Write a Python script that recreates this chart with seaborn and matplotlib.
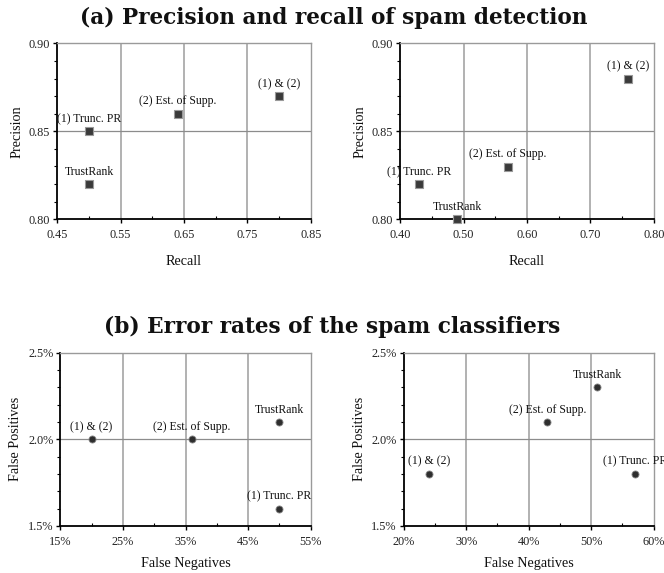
import numpy as np
import pandas as pd
import matplotlib
matplotlib.use("Agg")
import matplotlib.pyplot as plt
from matplotlib.ticker import FixedLocator, FuncFormatter
import seaborn as sns

# ---------------- data ----------------
labels_a1 = ["TrustRank", "(1) Trunc. PR", "(2) Est. of Supp.", "(1) & (2)"]
recall_a1 = [0.50, 0.50, 0.64, 0.80]
precision_a1 = [0.82, 0.85, 0.86, 0.87]

labels_a2 = ["(1) Trunc. PR", "TrustRank", "(2) Est. of Supp.", "(1) & (2)"]
recall_a2 = [0.43, 0.49, 0.57, 0.76]
precision_a2 = [0.82, 0.80, 0.83, 0.88]

labels_b1 = ["(1) & (2)", "(2) Est. of Supp.", "TrustRank", "(1) Trunc. PR"]
fneg_b1 = [20, 36, 50, 50]
fpos_b1 = [2.0, 2.0, 2.1, 1.6]

labels_b2 = ["(1) & (2)", "(2) Est. of Supp.", "TrustRank", "(1) Trunc. PR"]
fneg_b2 = [24, 43, 51, 57]
fpos_b2 = [1.8, 2.1, 2.3, 1.8]

title_a = "(a) Precision and recall of spam detection"
title_b = "(b) Error rates of the spam classifiers"

# ---------------- style ----------------
sns.set_theme(style="white")
plt.rcParams["font.family"] = ["Liberation Serif", "DejaVu Serif"]

fig = plt.figure(figsize=(6.64, 5.73), dpi=100)

W, H = 664.0, 573.0
def ax_rect(x0, x1, y0, y1):
    return [x0 / W, 1 - y1 / H, (x1 - x0) / W, (y1 - y0) / H]

ax1 = fig.add_axes(ax_rect(57.3, 310.7, 43.3, 219.3))
ax2 = fig.add_axes(ax_rect(400.3, 653.7, 43.3, 219.3))
ax3 = fig.add_axes(ax_rect(60.3, 310.7, 352.7, 526.0))
ax4 = fig.add_axes(ax_rect(403.7, 653.7, 352.7, 526.0))


def steps(lo, hi, step):
    n = int(round((hi - lo) / step))
    return [lo + i * step for i in range(n + 1)]


def draw(ax, xs, ys, labs, xlim, ylim, xmaj, ymaj, xmin, ymin, xfmt, yfmt,
         xlabel, ylabel, marker, xlabelpad):
    df = pd.DataFrame({"x": xs, "y": ys, "label": labs})
    ax.set_axisbelow(True)
    if marker == "s":
        sns.scatterplot(data=df, x="x", y="y", ax=ax, marker="s", s=26,
                        color="#3a3a3a", edgecolor="#9a9a9a", linewidth=0.8,
                        zorder=5, clip_on=False)
    else:
        sns.scatterplot(data=df, x="x", y="y", ax=ax, marker="o", s=26,
                        color="#2e2e2e", edgecolor="#8a8a8a", linewidth=0.6,
                        zorder=5, clip_on=False)
    for _, r in df.iterrows():
        ax.annotate(r["label"], (r["x"], r["y"]), xytext=(0, 4.5),
                    textcoords="offset points", ha="center", va="bottom",
                    fontsize=8.5, color="#111111", zorder=6,
                    annotation_clip=False)
    ax.set_xlim(*xlim)
    ax.set_ylim(*ylim)
    xt = steps(xlim[0], xlim[1], xmaj)
    yt = steps(ylim[0], ylim[1], ymaj)
    ax.xaxis.set_major_locator(FixedLocator(xt))
    ax.yaxis.set_major_locator(FixedLocator(yt))
    ax.xaxis.set_minor_locator(FixedLocator(steps(xlim[0], xlim[1], xmin)))
    ax.yaxis.set_minor_locator(FixedLocator(steps(ylim[0], ylim[1], ymin)))
    ax.xaxis.set_major_formatter(FuncFormatter(xfmt))
    ax.yaxis.set_major_formatter(FuncFormatter(yfmt))
    ax.grid(False)
    for v in xt[1:-1]:
        ax.axvline(v, color="#ababab", lw=1.3, zorder=0)
    for v in yt[1:-1]:
        ax.axhline(v, color="#8c8c8c", lw=0.9, zorder=0)
    for s in ("left", "bottom"):
        ax.spines[s].set_color("#000000")
        ax.spines[s].set_linewidth(1.3)
    for s in ("top", "right"):
        ax.spines[s].set_color("#9a9a9a")
        ax.spines[s].set_linewidth(1.0)
    ax.tick_params(axis="both", which="major", direction="out", length=3,
                   width=1.0, color="#000000", labelsize=8.8,
                   labelcolor="#222222", left=True, bottom=True)
    ax.tick_params(axis="x", which="major", pad=4)
    ax.tick_params(axis="y", which="major", pad=2)
    ax.tick_params(axis="y", which="minor", direction="out", length=2,
                   width=0.8, color="#000000", left=True)
    ax.tick_params(axis="x", which="minor", direction="in", length=2,
                   width=0.8, color="#000000", bottom=True)
    ax.set_xlabel(xlabel, fontsize=10.2, color="#111111", labelpad=xlabelpad)
    ax.set_ylabel(ylabel, fontsize=10.2, color="#111111", labelpad=4)


fmt2 = lambda v, p: f"{v:.2f}"
pct0 = lambda v, p: f"{v:.0f}%"
pct1 = lambda v, p: f"{v:.1f}%"

draw(ax1, recall_a1, precision_a1, labels_a1, (0.45, 0.85), (0.80, 0.90),
     0.10, 0.05, 0.05, 0.01, fmt2, fmt2, "Recall", "Precision", "s", 10)
draw(ax2, recall_a2, precision_a2, labels_a2, (0.40, 0.80), (0.80, 0.90),
     0.10, 0.05, 0.05, 0.01, fmt2, fmt2, "Recall", "Precision", "s", 10)
draw(ax3, fneg_b1, fpos_b1, labels_b1, (15, 55), (1.5, 2.5),
     10, 0.5, 5, 0.1, pct0, pct1, "False Negatives", "False Positives", "o", 7)
draw(ax4, fneg_b2, fpos_b2, labels_b2, (20, 60), (1.5, 2.5),
     10, 0.5, 5, 0.1, pct0, pct1, "False Negatives", "False Positives", "o", 7)

fig.text(333.5 / W, 1 - 17.5 / H, title_a, ha="center", va="center",
         fontsize=15.6, family="DejaVu Serif", fontweight="bold",
         color="#111111")
fig.text(332.5 / W, 1 - 326.5 / H, title_b, ha="center", va="center",
         fontsize=15.6, family="DejaVu Serif", fontweight="bold",
         color="#111111")

fig.savefig("out.png", dpi=100, facecolor="white")
